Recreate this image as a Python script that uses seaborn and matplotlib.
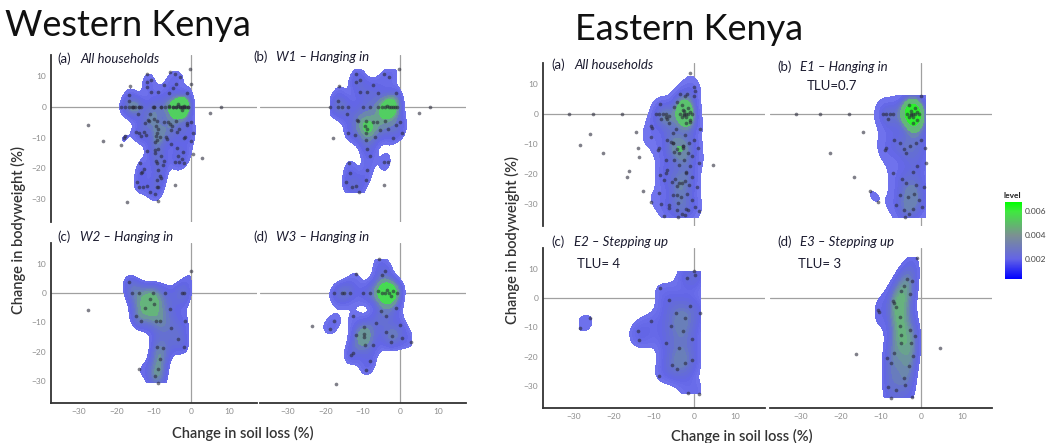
# Soil loss vs bodyweight change - density plots for Western and Eastern Kenya

import numpy as np
import pandas as pd
import matplotlib.pyplot as plt
import matplotlib.colors as mcolors
import seaborn as sns

# Household points: (change in soil loss %, change in bodyweight %)
w1_points = np.array([
    [-11.9, 10.7], [-4.3, 10.9], [-3.0, 9.8], [-0.5, 12.3], [-16.5, 6.9], [-11.9, 8.2],
    [-10.7, 8.9], [-7.3, 7.1], [-10.7, 4.8], [-8.8, 4.8], [-5.9, 4.6], [-1.3, 4.6],
    [-16.8, 2.0], [-18.8, 0.0], [-16.7, 0.0], [-15.7, 0.0], [-13.9, 0.0], [7.9, 0.0],
    [5.0, -1.9], [-14.3, -2.4], [-11.7, -4.1], [-11.4, -4.7], [-9.3, -4.4], [-7.4, -5.0],
    [-6.2, -4.9], [-4.2, -4.7], [-1.3, -5.8], [0.0, -5.0], [-9.5, -6.3], [-8.8, -7.2],
    [-5.5, -7.6], [-3.3, -7.2], [0.5, -8.6], [-14.0, -8.6], [-12.1, -9.0], [-9.2, -8.3],
    [-6.8, -9.7], [-2.1, -10.0], [-18.0, -10.2], [-9.2, -10.8], [-8.8, -13.8], [-8.1, -16.0],
    [-13.7, -18.1], [-4.4, -17.9], [-3.4, -17.9], [-8.8, -20.4], [-13.4, -21.4], [-9.2, -23.9],
    [-14.6, -24.6], [-13.0, -26.0], [-11.9, -25.7], [-4.4, -25.3], [-11.1, -27.8],
    [-1.0, 0.0], [-2.0, 0.0], [-3.0, 0.0], [-4.0, 0.0], [-2.5, 0.0], [-3.5, 0.5],
    [-5.0, 0.0], [-1.5, 0.0], [-6.0, 0.0], [-8.0, 0.0], [-10.0, 0.0],
])
w2_points = np.array([
    [-27.5, -5.8], [-16.7, 3.8], [-15.9, 0.0], [-14.1, 0.0], [-14.8, -8.0], [-13.5, -9.5],
    [-12.4, -5.2], [-11.1, -2.1], [-10.2, 0.0], [-9.5, -9.5], [-8.3, -9.7], [-9.3, -18.3],
    [-7.5, -18.9], [-8.3, -22.6], [-14.0, -26.0], [-8.9, -26.0], [-9.7, -28.4], [-8.9, -30.6],
    [-5.5, -12.0], [-3.6, -15.8], [-2.1, -18.4], [-2.5, 0.0], [-2.0, 0.0], [-1.6, -9.6],
    [0.0, 7.4], [-7.0, 0.0], [-5.8, -5.5], [-10.0, -3.8],
])
w3_points = np.array([
    [-5.8, 11.4], [-4.2, 7.6], [-5.0, 6.2], [-12.0, 6.6], [-17.8, 0.0], [-15.5, 0.0],
    [-15.1, 0.0], [-13.4, 0.0], [-5.3, -6.3], [-1.2, -5.3], [-3.75, -8.0], [-12.7, -8.0],
    [-17.7, -9.4], [-23.6, -11.2], [-18.9, -12.4], [-9.6, -11.5], [-6.4, -10.3], [-0.1, -11.0],
    [-12.0, -14.2], [-9.6, -14.0], [-9.8, -14.9], [-3.9, -13.4], [-2.3, -14.7], [0.4, -15.3],
    [-2.4, -16.8], [2.9, -16.7], [-9.4, -17.7], [-7.4, -17.7], [-12.7, -20.3], [-13.3, -21.2],
    [-8.2, -23.3], [-9.1, -26.2], [-17.1, -31.1],
    [-1.0, 0.0], [-2.0, 0.5], [-3.0, 0.0], [-4.0, 0.0], [-5.0, 0.0], [-6.0, 0.5],
    [-3.5, 1.0], [-2.5, -1.0], [-8.0, 0.0], [-10.0, 0.0],
])
e1_points = np.array([
    [-31.0, 0.0], [-25.0, 0.0], [-18.0, 0.0], [-9.5, 0.0], [-8.7, 0.0], [-7.7, 0.0],
    [-7.0, 0.0], [-8.25, -1.6], [-14.4, -6.0], [-22.75, -13.2], [-6.75, -8.9], [-8.7, -11.5],
    [-9.1, -12.2], [-16.7, -21.0], [-7.1, -19.8], [-12.8, -25.8], [-10.8, -29.4],
    [-5.2, -9.7], [-4.3, -11.8], [-3.75, -13.1], [-2.7, -10.8], [-1.4, -9.9], [-0.2, -8.8],
    [0.8, -11.4], [1.1, -16.3], [-1.0, -17.6], [-2.1, -19.3], [-4.75, -21.9], [-3.75, -23.1],
    [-1.25, -23.8], [0.6, -24.6], [-3.25, -27.8], [-5.2, -27.2], [-6.4, -30.6], [-4.3, -32.3],
    [-2.1, -31.8], [-0.6, -28.9], [0.1, -31.2], [-4.1, -34.6], [-3.0, -33.5], [-1.8, -26.7],
    [-0.2, 6.1],
    [-2.0, 0.0], [-1.5, 2.0], [-3.0, -1.0], [-2.5, 1.0], [-1.0, -2.0], [-2.0, -3.0],
    [-3.0, 3.0], [-1.0, 0.5], [-2.0, -1.0], [-2.5, -0.5],
    [-1.5, 0.0], [-2.5, 0.0], [-3.5, 0.0], [-0.5, 0.0],
])
e2_points = np.array([
    [-28.4, -10.3], [-25.9, -6.9], [-13.9, -11.4], [-13.6, -14.4], [-10.75, -7.9], [-8.6, 3.3],
    [-6.25, -0.7], [-8.8, -26.6], [-7.1, -15.4], [-5.6, -22.8], [-4.2, -24.2], [-2.2, -22.3],
    [-1.7, -32.3], [1.2, -32.6], [-0.6, -21.2], [-1.8, 6.7], [-0.2, 9.1], [0.25, 7.7],
    [1.5, -5.0], [-5.9, -9.4], [-3.9, -17.0], [-2.7, -11.4], [-1.0, -2.6], [-2.2, -7.0],
    [-0.5, -14.0], [-4.5, -5.0],
])
e3_points = np.array([
    [-1.1, 13.6], [-3.5, 6.6], [-2.25, 5.8], [-4.2, 4.1], [-5.0, 2.4], [-7.1, -1.1],
    [-6.9, -1.8], [-10.8, -4.2], [-10.4, -4.8], [-6.25, -3.1], [-5.4, -6.4], [-5.4, -9.6],
    [-5.0, -12.6], [-5.0, -15.3], [-6.7, -18.7], [-8.6, -20.3], [-7.4, -22.2], [-16.1, -19.2],
    [4.6, -17.0], [-4.2, -27.3], [-4.0, -29.8], [-8.3, -30.3], [-6.25, -31.4], [-7.5, -34.0],
    [-2.4, -33.8], [-2.9, 1.3], [-2.9, -10.9], [-2.5, -15.3],
    [-2.1, -19.8], [-3.1, -23.1], [-1.7, -13.1],
])

axis_ticks = [-30, -20, -10, 0, 10]
level_ticks = [0.002, 0.004, 0.006]

W, H = 1051, 443

sns.set_style("white")
plt.rcParams['font.family'] = ['Lato', 'DejaVu Sans']

# colour of the stacked density polygons as they look on the page
fill_cmap = mcolors.LinearSegmentedColormap.from_list("fill", [
    (0.0, '#a9abf9'), (0.08, '#8c8ff4'), (0.2, '#7275ee'), (0.35, '#6265e6'),
    (0.5, '#6570d0'), (0.62, '#6c8aa8'), (0.75, '#68b080'), (0.88, '#4cd65a'), (1.0, '#2cf02c')])
density_norm = mcolors.Normalize(0, 0.0036)
# legend gradient (blue -> green)
level_cmap = mcolors.LinearSegmentedColormap.from_list("level", [
    (0.0, '#0000ff'), (0.26, '#6464e6'), (0.57, '#7b9191'), (0.88, '#3fe83f'), (1.0, '#00ff00')])


def box(left, top, right, bottom):
    return [left / W, 1 - bottom / H, (right - left) / W, (bottom - top) / H]


def draw_panel(fig, rect, points, show_x, show_y, bw=0.62):
    ax = fig.add_axes(box(*rect))
    df = pd.DataFrame(points, columns=["soil", "weight"])
    ax.axhline(0, color='#a0a0a0', lw=0.9, zorder=0)
    ax.axvline(0, color='#a0a0a0', lw=0.9, zorder=0)
    sns.kdeplot(data=df, x="soil", y="weight", fill=True, levels=10, thresh=0.18,
                cmap=fill_cmap, norm=density_norm, bw_adjust=bw, cut=0, ax=ax)
    sns.scatterplot(data=df, x="soil", y="weight", s=7, color='#2a2a3a', alpha=0.6,
                    linewidth=0, ax=ax)
    ax.set_xlim(-37.5, 17.5)
    ax.set_ylim(-37.5, 17)
    ax.set_xlabel('')
    ax.set_ylabel('')
    for side in ['top', 'right', 'left', 'bottom']:
        ax.spines[side].set_visible(False)
    ax.tick_params(length=2, width=0.6, color='#999999', labelsize=6, labelcolor='#8c8c8c', pad=1.5)
    if show_y:
        ax.spines['left'].set_visible(True)
        ax.spines['left'].set_color('#333333')
        ax.spines['left'].set_linewidth(1.3)
        ax.set_yticks(axis_ticks)
    else:
        ax.set_yticks([])
    if show_x:
        ax.spines['bottom'].set_visible(True)
        ax.spines['bottom'].set_color('#333333')
        ax.spines['bottom'].set_linewidth(1.3)
        ax.set_xticks(axis_ticks)
    else:
        ax.set_xticks([])
    return ax


def label(fig, x, y, tag, title, size=9.5):
    fig.text(x / W, 1 - y / H, tag, fontsize=size, color='#1b1b2f', va='center')
    fig.text((x + 23) / W, 1 - y / H, title, fontsize=size, color='#1b1b2f', va='center',
             style='italic')


fig = plt.figure(figsize=(W / 100, H / 100), dpi=100)

# Western Kenya
w_all = np.vstack([w1_points, w2_points, w3_points])
draw_panel(fig, (51, 55, 257, 222), w_all, False, True)
draw_panel(fig, (260, 55, 466, 222), w1_points, False, False)
draw_panel(fig, (51, 243, 257, 403), w2_points, True, True)
draw_panel(fig, (260, 243, 466, 403), w3_points, True, False)

# Eastern Kenya
e_all = np.vstack([e1_points, e2_points, e3_points])
draw_panel(fig, (543, 63, 765, 226), e_all, False, True)
draw_panel(fig, (770, 63, 992, 226), e1_points, False, False)
draw_panel(fig, (543, 248, 765, 408), e2_points, True, True)
draw_panel(fig, (770, 248, 992, 408), e3_points, True, False, bw=0.85)

fig.text(5 / W, 1 - 26 / H, 'Western Kenya', fontsize=26, color='#111111', va='center')
fig.text(575 / W, 1 - 30 / H, 'Eastern Kenya', fontsize=26, color='#111111', va='center')

label(fig, 57, 59, '(a)', 'All households')
label(fig, 253, 57, '(b)', 'W1 – Hanging in')
label(fig, 57, 237, '(c)', 'W2 – Hanging in')
label(fig, 253, 237, '(d)', 'W3 – Hanging in')
label(fig, 551, 65, '(a)', 'All households')
label(fig, 777, 67, '(b)', 'E1 – Hanging in', )
label(fig, 551, 242, '(c)', 'E2 – Stepping up')
label(fig, 777, 242, '(d)', 'E3 – Stepping up')
fig.text(807 / W, 1 - 86 / H, 'TLU=0.7', fontsize=9.5, color='#1b1b2f', va='center')
fig.text(577 / W, 1 - 264 / H, 'TLU= 4', fontsize=9.5, color='#1b1b2f', va='center')
fig.text(798 / W, 1 - 264 / H, 'TLU= 3', fontsize=9.5, color='#1b1b2f', va='center')

# axis titles
fig.text(18 / W, 1 - 230 / H, 'Change in bodyweight (%)', fontsize=10.5, color='#333333',
         rotation=90, ha='center', va='center', fontweight='semibold')
fig.text(512 / W, 1 - 240 / H, 'Change in bodyweight (%)', fontsize=10.5, color='#333333',
         rotation=90, ha='center', va='center', fontweight='semibold')
fig.text(243 / W, 1 - 433 / H, 'Change in soil loss (%)', fontsize=10.5, color='#333333',
         ha='center', va='center', fontweight='semibold')
fig.text(742 / W, 1 - 436 / H, 'Change in soil loss (%)', fontsize=10.5, color='#333333',
         ha='center', va='center', fontweight='semibold')

# level colourbar
cax = fig.add_axes(box(1005, 202, 1022, 279))
sm = plt.cm.ScalarMappable(norm=mcolors.Normalize(0.0003, 0.0068), cmap=level_cmap)
cb = fig.colorbar(sm, cax=cax, ticks=level_ticks)
cb.outline.set_visible(False)
cb.ax.set_yticklabels([f'{t:.3f}' for t in level_ticks])
cb.ax.tick_params(length=3, width=0.6, color='white', direction='in', labelsize=6,
                  labelcolor='#444444', pad=2)
fig.text(1004 / W, 1 - 195 / H, 'level', fontsize=6, color='#222222', va='center',
         fontweight='bold')

fig.savefig('out.png', dpi=100)
